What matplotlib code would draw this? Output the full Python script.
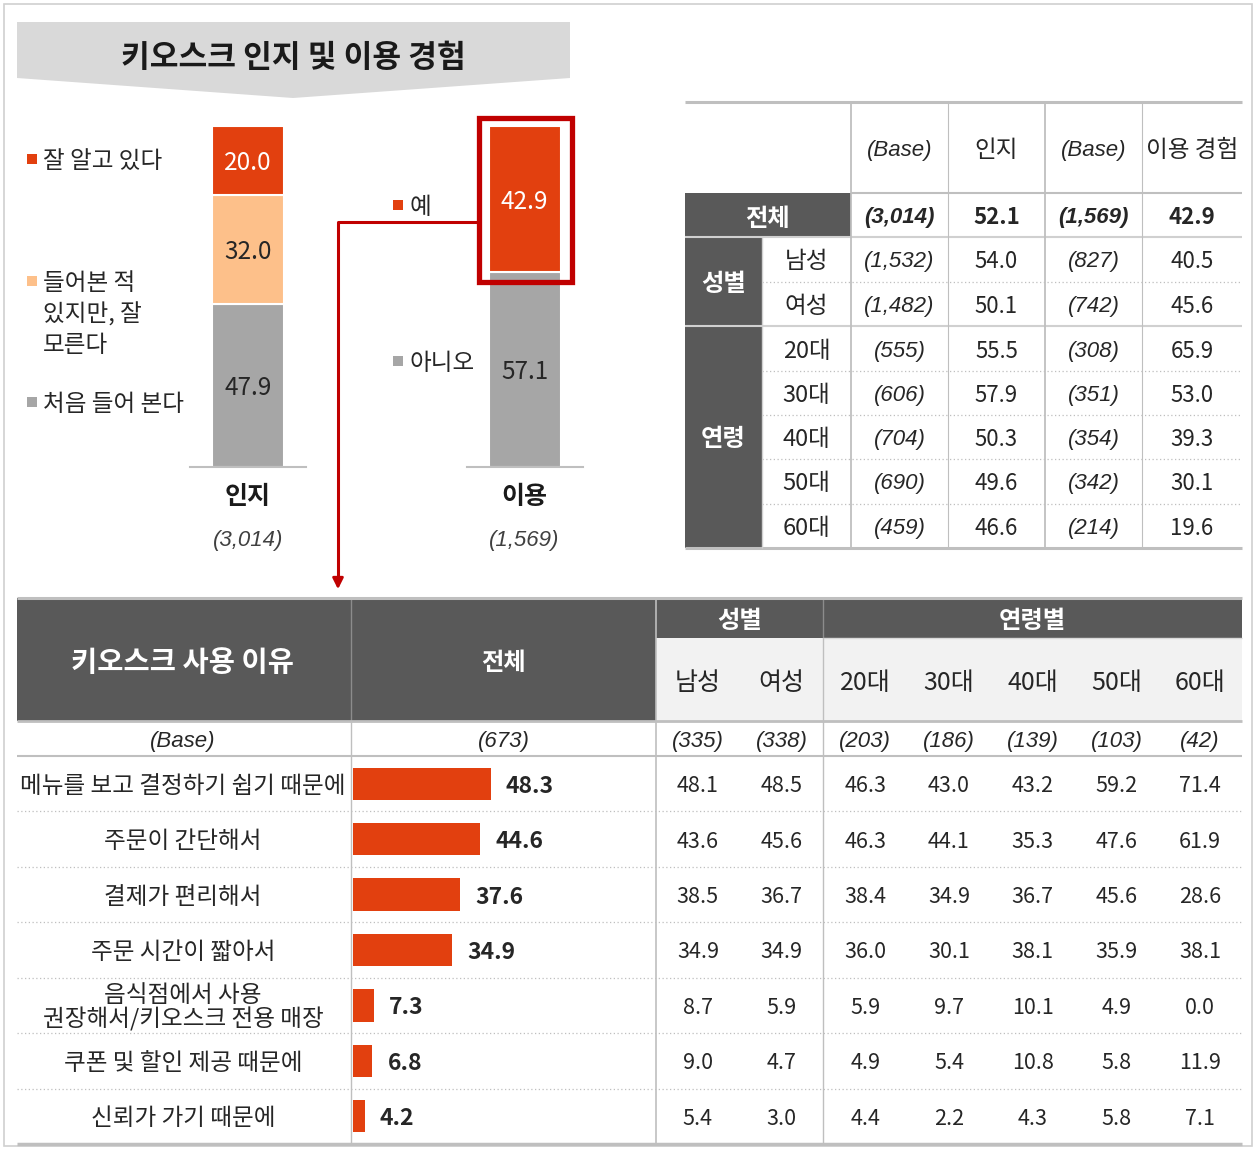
import matplotlib.pyplot as plt
from matplotlib.patches import Rectangle, Polygon
from matplotlib.transforms import offset_copy

plt.rcParams['font.family'] = ['Noto Sans CJK KR', 'DejaVu Sans']

W, H = 1259, 1150

# 인지 / 이용 누적 막대
stack_cats = ['인지', '이용']
stack_bases = ['(3,014)', '(1,569)']
aware_labels = ['처음 들어 본다', '들어본 적\n있지만, 잘\n모른다', '잘 알고 있다']
aware_vals = [47.9, 32.0, 20.0]
use_labels = ['아니오', '예']
use_vals = [57.1, 42.9]

# 응답자 특성별 인지 / 이용 경험
seg_rows = ['전체', '남성', '여성', '20대', '30대', '40대', '50대', '60대']
aware_base = [3014, 1532, 1482, 555, 606, 704, 690, 459]
aware_pct = [52.1, 54.0, 50.1, 55.5, 57.9, 50.3, 49.6, 46.6]
use_base = [1569, 827, 742, 308, 351, 354, 342, 214]
use_pct = [42.9, 40.5, 45.6, 65.9, 53.0, 39.3, 30.1, 19.6]

# 키오스크 사용 이유
reasons = ['메뉴를 보고 결정하기 쉽기 때문에', '주문이 간단해서', '결제가 편리해서',
           '주문 시간이 짧아서', '음식점에서 사용\n권장해서/키오스크 전용 매장',
           '쿠폰 및 할인 제공 때문에', '신뢰가 가기 때문에']
reason_total = [48.3, 44.6, 37.6, 34.9, 7.3, 6.8, 4.2]
total_base = 673
group_cols = ['남성', '여성', '20대', '30대', '40대', '50대', '60대']
group_base = [335, 338, 203, 186, 139, 103, 42]
group_vals = [
    [48.1, 48.5, 46.3, 43.0, 43.2, 59.2, 71.4],
    [43.6, 45.6, 46.3, 44.1, 35.3, 47.6, 61.9],
    [38.5, 36.7, 38.4, 34.9, 36.7, 45.6, 28.6],
    [34.9, 34.9, 36.0, 30.1, 38.1, 35.9, 38.1],
    [8.7, 5.9, 5.9, 9.7, 10.1, 4.9, 0.0],
    [9.0, 4.7, 4.9, 5.4, 10.8, 5.8, 11.9],
    [5.4, 3.0, 4.4, 2.2, 4.3, 5.8, 7.1],
]

RED = '#E2400F'
PEACH = '#FDC08A'
GRAY = '#A6A6A6'
DARK = '#595959'
LINE = '#BFBFBF'
OUTLINE = '#C00000'
INK = '#262626'

fig = plt.figure(figsize=(W / 100, H / 100), dpi=100)
ax = fig.add_axes([0, 0, 1, 1])
ax.set_xlim(0, W)
ax.set_ylim(H, 0)
ax.axis('off')


def px_axes(x0, y0, x1, y1):
    a = fig.add_axes([x0 / W, 1 - y1 / H, (x1 - x0) / W, (y1 - y0) / H])
    a.axis('off')
    return a


def txt(x, y, s, size=15, bold=False, italic=False, color=INK, ha='center', target=None, **kw):
    t = target if target is not None else ax
    # 한글 폰트의 세로 중심이 약간 위로 뜨므로 2.5px 내려 그린다
    opts = dict(ha=ha, va='center', fontsize=size, color=color,
                fontweight='bold' if bold else 'normal',
                transform=offset_copy(t.transData, fig=fig, y=-2.5, units='dots'))
    if italic:
        opts.update(family=['Liberation Sans', 'DejaVu Sans'], fontstyle='italic')
    opts.update(kw)
    return t.text(x, y, s, **opts)


def hline(y, x0, x1, lw=1.0, color=LINE, ls='-'):
    ax.plot([x0, x1], [y, y], color=color, lw=lw, ls=ls, solid_capstyle='butt')


def vline(x, y0, y1, lw=1.0, color=LINE, ls='-'):
    ax.plot([x, x], [y0, y1], color=color, lw=lw, ls=ls, solid_capstyle='butt')


DOT = (0, (1, 2))
KO = 17       # 한글 본문 크기
NUM = 15.5    # 표 숫자 크기
ITA = 16      # 괄호 표본수 크기
HEAD = 17.5   # 진한 머리글 크기

# 바깥 테두리와 제목 배너
ax.add_patch(Rectangle((4, 4), 1248, 1142, fill=False, ec='#D0D0D0', lw=1.2))
ax.add_patch(Polygon([(17, 22), (570, 22), (570, 78), (293, 98), (17, 78)],
                     closed=True, fc='#D9D9D9', ec='none'))
txt(293, 55, '키오스크 인지 및 이용 경험', size=22.5, bold=True, color='#1a1a1a')

# ---- 누적 막대 (인지 / 이용) ----
bx = px_axes(190, 126, 583, 467)
bx.set_xlim(-0.21, 1.211)
bx.set_ylim(0, 100)
bw = 0.26
aware_colors = [GRAY, PEACH, RED]
aware_text = [INK, INK, 'white']
bottom = 0
for v, c, tc in zip(aware_vals, aware_colors, aware_text):
    bx.bar(0, v, bottom=bottom, width=bw, color=c, edgecolor='white', linewidth=1.5)
    txt(0, bottom + v / 2, f'{v:.1f}', size=17.5, color=tc, target=bx)
    bottom += v
use_colors = [GRAY, RED]
use_text = [INK, 'white']
bottom = 0
for v, c, tc in zip(use_vals, use_colors, use_text):
    bx.bar(1, v, bottom=bottom, width=bw, color=c, edgecolor='white', linewidth=1.5)
    txt(1, bottom + v / 2, f'{v:.1f}', size=17.5, color=tc, target=bx)
    bottom += v
for i in range(2):
    bx.plot([i - 0.21, i + 0.21], [0, 0], color=LINE, lw=1.5, clip_on=False)
# 이용 '예' 강조 테두리
yes_bottom = use_vals[0]
bx.add_patch(Rectangle((1 - bw / 2 - 0.036, yes_bottom - 2.9), bw + 0.076,
                       use_vals[1] + 2.9 + 2.35, fill=False, ec=OUTLINE, lw=3.8,
                       clip_on=False))

for i, (cat, base) in enumerate(zip(stack_cats, stack_bases)):
    x = 248 + i * 276.5
    txt(x, 495, cat, size=18, bold=True, color='#1a1a1a')
    txt(x, 538, base, size=ITA, italic=True, color='#404040')

# 범례
legend_y = [402, 281, 159]
for lab, c, y in zip(aware_labels, aware_colors, legend_y):
    ax.add_patch(Rectangle((27, y - 5), 10, 10, fc=c, ec='none'))
    for k, part in enumerate(lab.split('\n')):
        txt(43, y + 31 * k, part, size=KO, ha='left')
for lab, c, y in zip(use_labels, use_colors, [361, 205]):
    ax.add_patch(Rectangle((393, y - 5), 10, 10, fc=c, ec='none'))
    txt(410, y, lab, size=KO, ha='left')

# 연결 화살표
ax.plot([479, 338, 338], [222, 222, 582], color=OUTLINE, lw=2.2)
ax.annotate('', xy=(338, 592), xytext=(338, 578),
            arrowprops=dict(arrowstyle='-|>', color=OUTLINE, lw=2, mutation_scale=16))

# ---- 우측 상단 표 ----
tx = [685, 762, 851, 948, 1045, 1142, 1242]
ty = [102, 193, 237, 282, 326, 371, 415, 459, 504, 548]
ax.add_patch(Rectangle((685, 193), 166, 44, fc=DARK, ec='none'))
ax.add_patch(Rectangle((685, 237), 77, 89, fc=DARK, ec='none'))
ax.add_patch(Rectangle((685, 326), 77, 222, fc=DARK, ec='none'))
heads = ['(Base)', '인지', '(Base)', '이용 경험']
for j, h in enumerate(heads):
    cx = (tx[j + 2] + tx[j + 3]) / 2
    if j % 2 == 0:
        txt(cx, 148, h, size=ITA, italic=True)
    else:
        txt(cx, 148, h, size=KO)
txt(768, 216, '전체', size=HEAD, bold=True, color='white')
txt(723.5, 281.5, '성별', size=HEAD, bold=True, color='white')
txt(723.5, 437, '연령', size=HEAD, bold=True, color='white')
for r, name in enumerate(seg_rows):
    cy = (ty[r + 1] + ty[r + 2]) / 2
    bold = r == 0
    if r > 0:
        txt(806.5, cy, name, size=KO)
    cols = [f'({aware_base[r]:,})', f'{aware_pct[r]:.1f}',
            f'({use_base[r]:,})', f'{use_pct[r]:.1f}']
    for j, s in enumerate(cols):
        cx = (tx[j + 2] + tx[j + 3]) / 2
        if j % 2 == 0:
            txt(cx, cy, s, size=ITA, bold=bold, italic=True)
        else:
            txt(cx, cy, s, size=NUM + 0.5, bold=bold)

hline(102, 685, 1242, lw=2.2)
hline(193, 851, 1242, lw=1.5)
hline(237, 685, 1242, lw=1.5, color='#D0D0D0')
hline(326, 685, 1242, lw=1.5, color='#D0D0D0')
for y in [282, 371, 415, 459, 504]:
    hline(y, 762, 1242, lw=0.9, ls=DOT)
hline(548, 685, 1242, lw=2.2)
vline(762, 237, 548, lw=1.0, color='#D0D0D0')
for x, lw in zip(tx[2:6], [1.3, 0.8, 1.3, 0.8]):
    vline(x, 102, 548, lw=lw)

# ---- 하단 표: 키오스크 사용 이유 ----
L, R = 17, 1242
cw = (R - 656) / 7
col_x = [656 + cw * (k + 0.5) for k in range(7)]
row_h = (1144 - 756) / 7
row_y = [756 + row_h * (k + 0.5) for k in range(7)]

ax.add_patch(Rectangle((L, 598), 656 - L, 123, fc=DARK, ec='none'))
ax.add_patch(Rectangle((656, 598), R - 656, 40, fc=DARK, ec='none'))
ax.add_patch(Rectangle((656, 638), R - 656, 83, fc='#F2F2F2', ec='none'))
vline(351, 598, 721, lw=1.0, color='#8C8C8C')
vline(823.4, 598, 638, lw=1.0, color='#8C8C8C')

txt(183, 660, '키오스크 사용 이유', size=20.5, bold=True, color='white')
txt(503.5, 660, '전체', size=HEAD, bold=True, color='white')
txt((656 + 823.4) / 2, 619, '성별', size=HEAD, bold=True, color='white')
txt((823.4 + R) / 2, 619, '연령별', size=HEAD, bold=True, color='white')
for cx, g in zip(col_x, group_cols):
    txt(cx, 680, g, size=18)

txt(183, 739, '(Base)', size=ITA, italic=True)
txt(503.5, 739, f'({total_base})', size=ITA, italic=True)
for cx, b in zip(col_x, group_base):
    txt(cx, 739, f'({b})', size=ITA, italic=True)

for i, (lab, vals) in enumerate(zip(reasons, group_vals)):
    txt(183, row_y[i], lab, size=KO, linespacing=1.0)
    for cx, v in zip(col_x, vals):
        txt(cx, row_y[i], f'{v:.1f}', size=NUM)

# 전체 막대
scale = 2.85
hx = px_axes(353, 756, 656, 1144)
hx.set_xlim(0, (656 - 353) / scale)
hx.set_ylim(7, 0)
ypos = [k + 0.5 for k in range(7)]
hx.barh(ypos, reason_total, height=0.58, color=RED, left=0)
for y, v in zip(ypos, reason_total):
    txt(v + 15 / scale, y, f'{v:.1f}', size=16.5, bold=True, ha='left', target=hx)

hline(598, L, R, lw=2.2)
hline(638, 823.4, R, lw=1.0, color='#D9D9D9')
hline(721, L, R, lw=2.0)
hline(756, L, R, lw=1.5)
for k in range(1, 7):
    hline(756 + row_h * k, L, R, lw=0.9, ls=DOT)
hline(1144, L, R, lw=2.5)
vline(351, 721, 1144, lw=1.0)
vline(656, 598, 1144, lw=1.2)
vline(823.4, 638, 1144, lw=1.0)

fig.savefig('out.png', dpi=100)
